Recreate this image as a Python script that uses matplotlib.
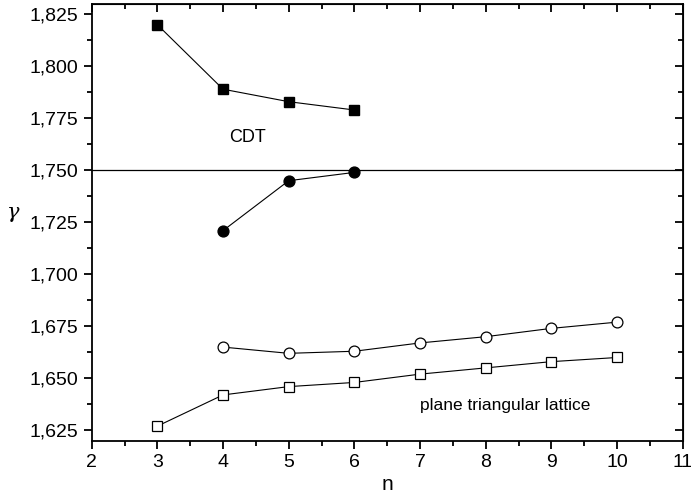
import matplotlib.pyplot as plt
from matplotlib.ticker import MultipleLocator, FuncFormatter

plt.rcParams['font.family'] = ['Liberation Sans', 'DejaVu Sans']

# CDT data
n_cdt_sq = [3, 4, 5, 6]
g_cdt_sq = [1.820, 1.789, 1.783, 1.779]
n_cdt_ci = [4, 5, 6]
g_cdt_ci = [1.721, 1.745, 1.749]

# plane triangular lattice
n_tri_ci = [4, 5, 6, 7, 8, 9, 10]
g_tri_ci = [1.665, 1.662, 1.663, 1.667, 1.670, 1.674, 1.677]
n_tri_sq = [3, 4, 5, 6, 7, 8, 9, 10]
g_tri_sq = [1.627, 1.642, 1.646, 1.648, 1.652, 1.655, 1.658, 1.660]

gamma_ref = 1.75

fig = plt.figure(figsize=(6.91, 4.98), dpi=100)
ax = fig.add_axes([0.1327, 0.1151, 0.8553, 0.877])

ax.axhline(gamma_ref, color="black", lw=0.9)
ax.plot(n_cdt_sq, g_cdt_sq, '-s', color="black", lw=0.8, ms=7, mfc="black")
ax.plot(n_cdt_ci, g_cdt_ci, '-o', color="black", lw=0.8, ms=7.8, mfc="black")
ax.plot(n_tri_ci, g_tri_ci, '-o', color="black", lw=0.8, ms=7.8, mfc="white", mew=0.9)
ax.plot(n_tri_sq, g_tri_sq, '-s', color="black", lw=0.8, ms=7, mfc="white", mew=0.9)

ax.text(4.1, 1.766, "CDT", fontsize=13, va="center", ha="left")
ax.text(7.0, 1.637, "plane triangular lattice", fontsize=12.5, va="center", ha="left")

ax.set_xlim(2, 11)
ax.set_ylim(1.62, 1.83)
ax.xaxis.set_major_locator(MultipleLocator(1))
ax.xaxis.set_minor_locator(MultipleLocator(0.5))
ax.yaxis.set_major_locator(MultipleLocator(0.025))
ax.yaxis.set_minor_locator(MultipleLocator(0.0125))
ax.yaxis.set_major_formatter(FuncFormatter(lambda v, p: ("%.3f" % v).replace(".", ",")))

for side in ax.spines.values():
    side.set_linewidth(1.3)
ax.tick_params(which="both", direction="out", top=False, right=False, labelsize=14, width=1.3)
ax.tick_params(which="major", length=6)
ax.tick_params(which="minor", length=3.5)

# mirrored inward ticks on top and right
axt = ax.secondary_xaxis("top")
axt.xaxis.set_major_locator(MultipleLocator(1))
axt.xaxis.set_minor_locator(MultipleLocator(0.5))
axt.tick_params(which="both", direction="in", labeltop=False, width=1.3)
axt.tick_params(which="major", length=6)
axt.tick_params(which="minor", length=3.5)
axr = ax.secondary_yaxis("right")
axr.yaxis.set_major_locator(MultipleLocator(0.025))
axr.yaxis.set_minor_locator(MultipleLocator(0.0125))
axr.tick_params(which="both", direction="in", labelright=False, width=1.3)
axr.tick_params(which="major", length=6)
axr.tick_params(which="minor", length=3.5)

ax.set_xlabel("n", fontsize=15, labelpad=3)
ax.set_ylabel("\u03b3", fontsize=15, labelpad=12, rotation=0, family="DejaVu Serif", style="italic")

plt.savefig("out.png")
plt.close()
